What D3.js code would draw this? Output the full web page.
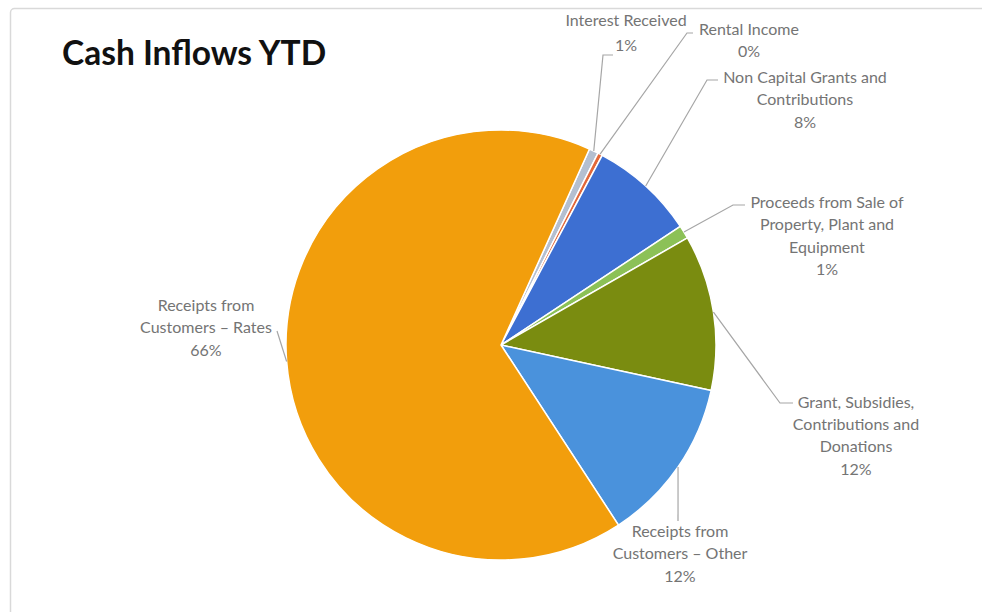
<!DOCTYPE html>
<html>
<head>
<meta charset="utf-8">
<script src="https://cdn.jsdelivr.net/npm/d3@7"></script>
<style>
  html, body { margin: 0; padding: 0; background: #fff; }
  svg { display: block; }
</style>
</head>
<body>
<svg id="chart" width="982" height="612"></svg>
<script>
// Cash inflow categories, clockwise from the first slice
const categories = [
  "Interest Received",
  "Rental Income",
  "Non Capital Grants and Contributions",
  "Proceeds from Sale of Property, Plant and Equipment",
  "Grant, Subsidies, Contributions and Donations",
  "Receipts from Customers – Other",
  "Receipts from Customers – Rates"
];
// Share of year-to-date inflows (%)
const values = [0.7, 0.35, 7.9, 1.0, 11.7, 12.4, 65.95];
const colors = ["#b4bfd0", "#e2683a", "#3d6fd2", "#8cc157", "#7a8c10", "#4a92dc", "#f29e0c"];

// Wrapped label lines for each category
const labelLines = [
  ["Interest Received"],
  ["Rental Income"],
  ["Non Capital Grants and", "Contributions"],
  ["Proceeds from Sale of", "Property, Plant and", "Equipment"],
  ["Grant, Subsidies,", "Contributions and", "Donations"],
  ["Receipts from", "Customers – Other"],
  ["Receipts from", "Customers – Rates"]
];

// Label placement: centre x, first line centre y, line height,
// leader elbow and leader end next to the text
const labelLayout = [
  { x: 626, y: 20,  lh: 25,   elbow: [603, 55],  end: [613, 55] },
  { x: 749, y: 29,  lh: 22,   elbow: [687, 33],  end: [693, 33] },
  { x: 805, y: 77,  lh: 22.5, elbow: [707, 80],  end: [718, 80] },
  { x: 827, y: 202, lh: 22.5, elbow: [733, 205], end: [745, 205] },
  { x: 856, y: 402, lh: 22.3, elbow: [780, 403], end: [793, 403] },
  { x: 680, y: 531, lh: 22.5, elbow: null,       end: [678, 521] },
  { x: 206, y: 305, lh: 22.5, elbow: null,       end: [277, 331] }
];

const svg = d3.select("#chart");

// chart area frame
svg.append("rect")
  .attr("x", 10.5).attr("y", 8.5)
  .attr("width", 1000).attr("height", 700)
  .attr("rx", 4)
  .attr("fill", "#fff")
  .attr("stroke", "#d9d9d9")
  .attr("stroke-width", 1.5);

svg.append("text")
  .attr("x", 62).attr("y", 65)
  .attr("font-family", "Lato, 'Open Sans', sans-serif")
  .attr("font-weight", "bold")
  .attr("font-size", 33.5)
  .attr("fill", "#111")
  .text("Cash Inflows YTD");

const cx = 501, cy = 345, r = 215;
const startDeg = 24.3;

const data = categories.map((c, i) => ({ name: c, value: values[i], color: colors[i], idx: i }));
const total = d3.sum(values);

const pie = d3.pie()
  .sort(null)
  .value(d => d.value)
  .startAngle(startDeg * Math.PI / 180)
  .endAngle(startDeg * Math.PI / 180 + 2 * Math.PI);

const arcs = pie(data);
const arc = d3.arc().innerRadius(0).outerRadius(r);

const g = svg.append("g").attr("transform", `translate(${cx},${cy})`);

g.selectAll("path.slice")
  .data(arcs)
  .join("path")
  .attr("class", "slice")
  .attr("d", arc)
  .attr("fill", d => d.data.color)
  .attr("stroke", "#fff")
  .attr("stroke-width", 1.5)
  .attr("stroke-linejoin", "round");

// leader lines from the slice edge to each label
const edgePoint = d => {
  const a = (d.startAngle + d.endAngle) / 2;
  return [cx + r * Math.sin(a), cy - r * Math.cos(a)];
};

svg.selectAll("polyline.leader")
  .data(arcs)
  .join("polyline")
  .attr("class", "leader")
  .attr("points", d => {
    const L = labelLayout[d.index];
    const pts = [edgePoint(d)];
    if (L.elbow) pts.push(L.elbow);
    pts.push(L.end);
    return pts.map(p => p.join(",")).join(" ");
  })
  .attr("fill", "none")
  .attr("stroke", "#a6a6a6")
  .attr("stroke-width", 1.2);

// data labels: category name and rounded percentage
const labels = svg.selectAll("text.lbl")
  .data(arcs)
  .join("text")
  .attr("class", "lbl")
  .attr("text-anchor", "middle")
  .attr("font-family", "Lato, 'Open Sans', sans-serif")
  .attr("font-size", 16)
  .attr("fill", "#747474")
  .attr("stroke", "#fff")
  .attr("stroke-width", 2.5)
  .attr("paint-order", "stroke")
  .attr("stroke-linejoin", "round");

labels.each(function(d) {
  const L = labelLayout[d.index];
  const lines = labelLines[d.index].concat([Math.round(d.data.value / total * 100) + "%"]);
  const t = d3.select(this);
  lines.forEach((s, k) => {
    t.append("tspan")
      .attr("x", L.x)
      .attr("y", L.y + k * L.lh)
      .attr("dy", "0.35em")
      .text(s);
  });
});
</script>
</body>
</html>
